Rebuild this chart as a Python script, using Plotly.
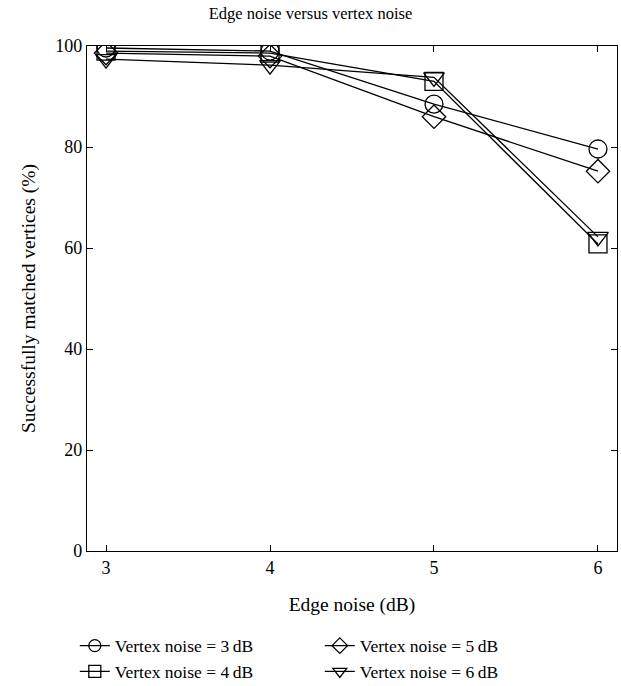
import plotly.graph_objects as go

edge_noise = [3, 4, 5, 6]
series_names = ["Vertex noise = 3\u2009dB", "Vertex noise = 4\u2009dB", "Vertex noise = 5\u2009dB", "Vertex noise = 6\u2009dB"]
v3 = [99.6, 99.0, 88.5, 79.6]
v4 = [99.0, 98.6, 93.0, 60.8]
v5 = [98.6, 98.0, 86.0, 75.2]
v6 = [97.4, 96.2, 93.8, 62.2]
symbols = ["circle-open", "square-open", "diamond-open", "triangle-down-open"]
legend_ranks = [1, 3, 2, 4]

FONT = "Liberation Serif"
fig = go.Figure()
for name, vals, sym in zip(series_names, [v3, v4, v5, v6], symbols):
    fig.add_trace(go.Scatter(
        x=edge_noise, y=vals, name=name, mode="lines+markers", showlegend=False,
        line=dict(color="black", width=1.3),
        marker=dict(symbol=sym, size=18, color="black", line=dict(width=1.3, color="black")),
    ))
# legend entries (smaller symbols, as in the reference key)
for name, sym, rank in zip(series_names, symbols, legend_ranks):
    fig.add_trace(go.Scatter(
        x=[None], y=[None], name=name, mode="lines+markers", legendrank=rank,
        line=dict(color="black", width=1.3),
        marker=dict(symbol=sym, size=12, color="black", line=dict(width=1.3, color="black")),
    ))

axis_common = dict(
    showline=True, linecolor="black", linewidth=1.3, mirror="ticks",
    ticks="inside", ticklen=6, tickwidth=1.3, tickcolor="black",
    showgrid=False, zeroline=False, automargin=False,
    tickfont=dict(family=FONT, size=18, color="black"),
)
fig.update_xaxes(range=[2.884, 6.116], tickvals=[3, 4, 5, 6],
                 title=dict(text="Edge noise (dB)", font=dict(family=FONT, size=19.5, color="black"), standoff=20),
                 **axis_common)
fig.update_yaxes(range=[0, 100], tickvals=[0, 20, 40, 60, 80, 100],
                 title=dict(text="Successfully matched vertices (%)", font=dict(family=FONT, size=19.5, color="black"), standoff=14),
                 **axis_common)
fig.update_layout(
    width=621, height=686,
    margin=dict(l=87, r=4, t=46, b=135, autoexpand=False),
    plot_bgcolor="white", paper_bgcolor="white",
    title=dict(text="Edge noise versus vertex noise", x=0.5, xanchor="center", y=0.98, yanchor="middle",
               font=dict(family=FONT, size=16.5, color="black")),
    font=dict(family=FONT, color="black"),
    legend=dict(orientation="h", x=-0.023, xanchor="left", y=-0.152, yanchor="top",
                entrywidth=200, entrywidthmode="pixels",
                font=dict(family=FONT, size=17.5, color="black"), tracegroupgap=0),
    showlegend=True,
)
fig.write_html("out.html", config={"displayModeBar": False},
               post_script="document.body.style.margin='0px';document.body.style.padding='0px';")
